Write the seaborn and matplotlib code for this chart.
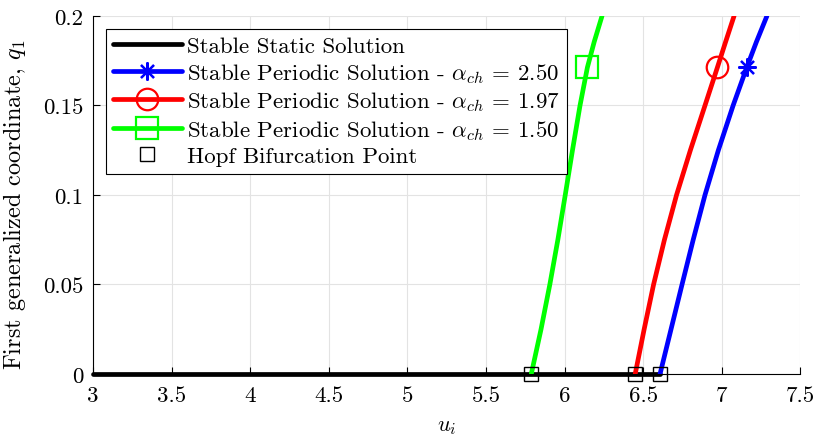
import matplotlib
matplotlib.use("Agg")
import matplotlib.pyplot as plt
from matplotlib.lines import Line2D
import seaborn as sns
import pandas as pd

# Stable static branch (q1 = 0) and Hopf bifurcation points
static_u = [3.0, 6.607]
static_q = [0.0, 0.0]
hopf_u = [5.788, 6.449, 6.607]
hopf_q = [0.0, 0.0, 0.0]

# Stable periodic branches, one per alpha_ch
q_levels = [0.0, 0.025, 0.05, 0.075, 0.1, 0.125, 0.15, 0.1713, 0.1855, 0.2]
u_a250 = [6.607, 6.677, 6.747, 6.818, 6.893, 6.978, 7.072, 7.159, 7.220, 7.287]
u_a197 = [6.449, 6.506, 6.566, 6.635, 6.712, 6.800, 6.893, 6.972, 7.024, 7.078]
u_a150 = [5.788, 5.850, 5.906, 5.957, 6.004, 6.050, 6.098, 6.145, 6.188, 6.238]
marker_index = 7  # branch sample that carries the series marker

alpha_labels = ["2.50", "1.97", "1.50"]
branch_colors = ["#0000ff", "#ff0000", "#00ff00"]
branch_markers = [(8, 2, 0), "o", "s"]
branch_marker_sizes = [13, 15.5, 15.5]

x_ticks = [3, 3.5, 4, 4.5, 5, 5.5, 6, 6.5, 7, 7.5]
x_tick_labels = ["3", "3.5", "4", "4.5", "5", "5.5", "6", "6.5", "7", "7.5"]
y_ticks = [0, 0.05, 0.1, 0.15, 0.2]
y_tick_labels = ["0", "0.05", "0.1", "0.15", "0.2"]

sns.set_theme(style="whitegrid")
plt.rcParams.update({
    "font.family": ["cmr10", "DejaVu Serif"],
    "mathtext.fontset": "cm",
    "axes.formatter.use_mathtext": True,
    "axes.edgecolor": "black",
    "axes.linewidth": 0.8,
    "grid.color": "#e3e3e3",
    "grid.linewidth": 0.8,
    "xtick.direction": "in",
    "ytick.direction": "in",
    "xtick.color": "black",
    "ytick.color": "black",
    "text.color": "black",
    "axes.labelcolor": "black",
})

fig = plt.figure(figsize=(8.14, 4.39), dpi=100)
ax = fig.add_axes([0.1143, 0.1458, 0.8690, 0.8155])

lw = 3.4

# static branch
sns.lineplot(x=static_u, y=static_q, ax=ax, color="black", linewidth=lw,
             sort=False, estimator=None, zorder=3, clip_on=False)

# periodic branches
branches = [u_a250, u_a197, u_a150]
for u_vals, col, mk, ms in zip(branches, branch_colors, branch_markers, branch_marker_sizes):
    df = pd.DataFrame({"u": u_vals, "q": q_levels})
    sns.lineplot(data=df, x="u", y="q", ax=ax, color=col, linewidth=lw,
                 sort=False, estimator=None, zorder=4,
                 marker=mk, markersize=ms, markevery=[marker_index],
                 markerfacecolor="none", markeredgecolor=col, markeredgewidth=1.6)

# Hopf bifurcation points
ax.plot(hopf_u, hopf_q, linestyle="none", marker="s", markersize=10,
        markerfacecolor="none", markeredgecolor="black", markeredgewidth=1.0,
        zorder=6, clip_on=False)

ax.set_xlim(3, 7.5)
ax.set_ylim(0, 0.2)
ax.set_xticks(x_ticks)
ax.set_xticklabels(x_tick_labels)
ax.set_yticks(y_ticks)
ax.set_yticklabels(y_tick_labels)
ax.tick_params(axis="both", labelsize=16.5, length=5, width=0.8,
               bottom=True, left=True)
ax.tick_params(axis="x", pad=8)
ax.tick_params(axis="y", pad=7)
for side in ("top", "right"):
    ax.spines[side].set_visible(False)
for side in ("left", "bottom"):
    ax.spines[side].set_color("black")

ax.set_xlabel(r"$u_i$", fontsize=16)
ax.set_ylabel(r"First generalized coordinate, $q_1$", fontsize=17.5)
ax.xaxis.set_label_coords(0.5, -0.118)
ax.yaxis.set_label_coords(-0.092, 0.475)

# legend
handles = [Line2D([], [], color="black", linewidth=lw)]
labels = ["Stable Static Solution"]
for col, mk, ms, a in zip(branch_colors, branch_markers, branch_marker_sizes, alpha_labels):
    handles.append(Line2D([], [], color=col, linewidth=lw, marker=mk, markersize=ms,
                          markerfacecolor="none", markeredgecolor=col,
                          markeredgewidth=1.6))
    labels.append(r"Stable Periodic Solution - $\alpha_{ch}$ = " + a)
handles.append(Line2D([], [], linestyle="none", marker="s", markersize=10,
                      markerfacecolor="none", markeredgecolor="black",
                      markeredgewidth=1.0))
labels.append("Hopf Bifurcation Point")

leg = ax.legend(handles, labels, loc="upper left", bbox_to_anchor=(0.018, 0.964),
                borderaxespad=0, fontsize=16.5, frameon=True, fancybox=False,
                framealpha=1, edgecolor="black", handlelength=3.0,
                handletextpad=0.22, labelspacing=0.2, borderpad=0.32)
leg.get_frame().set_linewidth(0.8)
leg.set_zorder(10)

fig.savefig("out.png", dpi=100)
